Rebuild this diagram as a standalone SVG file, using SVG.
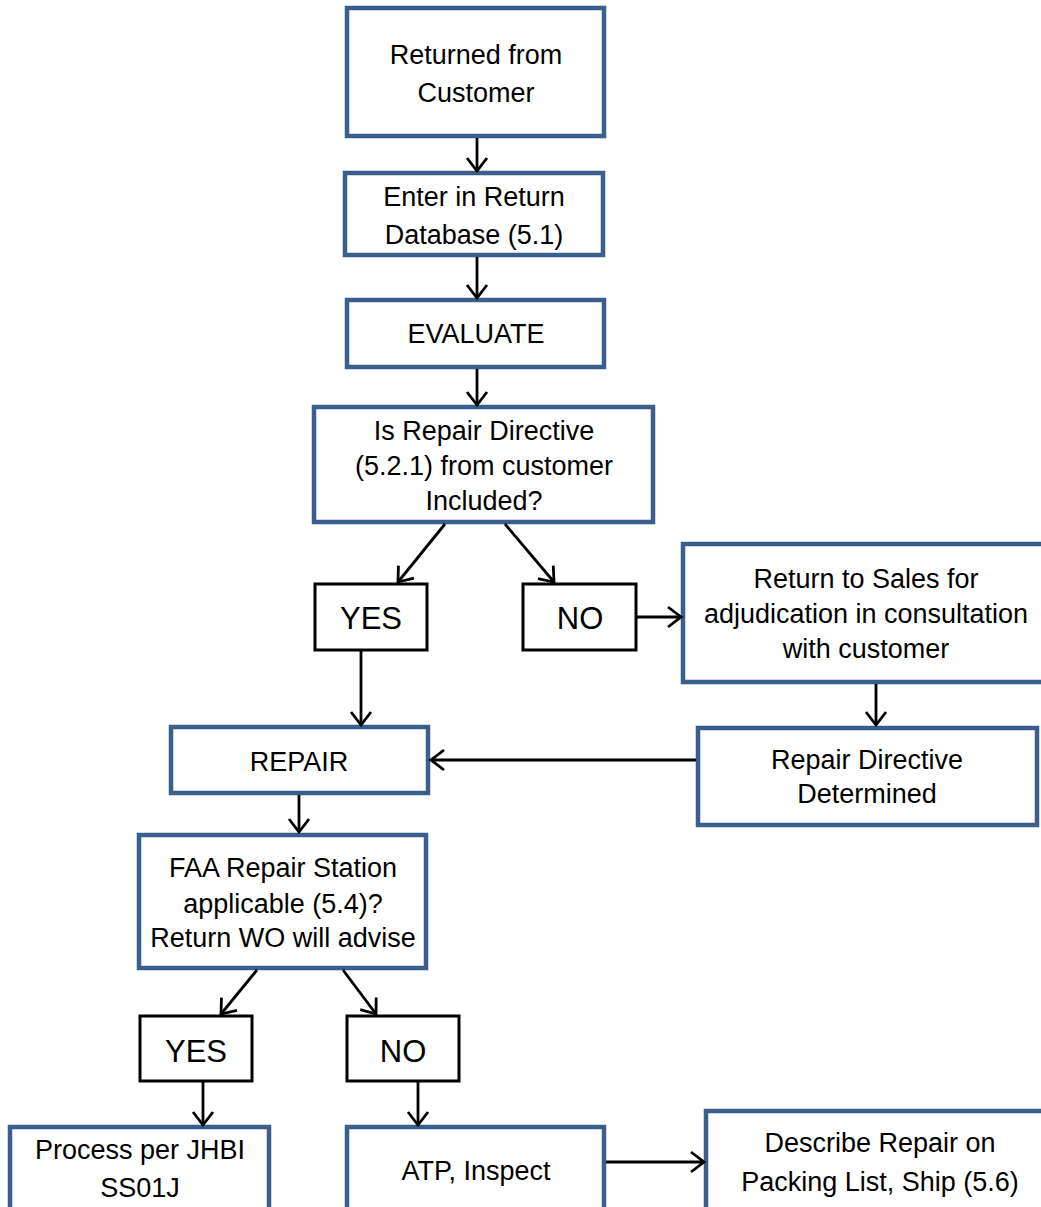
<svg xmlns="http://www.w3.org/2000/svg" width="1041" height="1207" viewBox="0 0 1041 1207">
<style>
.b{fill:#fff;stroke:#3B5E8C;stroke-width:4.5}
.k{fill:#fff;stroke:#000;stroke-width:3}
text{font-family:"Liberation Sans",Arial,sans-serif;font-size:27px;fill:#000;text-anchor:middle}
.yn{font-size:31px}
.c line{stroke:#000;stroke-width:2.8;marker-end:url(#a)}
</style>
<defs>
<marker id="a" markerUnits="userSpaceOnUse" markerWidth="30" markerHeight="30" viewBox="-15 -15 30 30" refX="0" refY="0" orient="auto">
<polyline points="-13,-10 0,0 -13,10" fill="none" stroke="#000" stroke-width="2.8"/>
</marker>
</defs>
<rect width="1041" height="1207" fill="#fff"/>
<g id="nodes">
<g id="n1"><rect class="b" x="347" y="8" width="257" height="128"/><text x="476" y="64">Returned from</text><text x="476" y="102">Customer</text></g>
<g id="n2"><rect class="b" x="345" y="173" width="258" height="82"/><text x="474" y="206">Enter in Return</text><text x="474" y="244">Database (5.1)</text></g>
<g id="n3"><rect class="b" x="347" y="300" width="257" height="67"/><text x="476" y="343">EVALUATE</text></g>
<g id="n4"><rect class="b" x="314" y="407" width="339" height="115"/><text x="484" y="440">Is Repair Directive</text><text x="484" y="475">(5.2.1) from customer</text><text x="484" y="510">Included?</text></g>
<g id="n5"><rect class="k" x="315" y="584" width="112" height="66"/><text class="yn" x="371" y="629">YES</text></g>
<g id="n6"><rect class="k" x="523" y="584" width="113" height="66"/><text class="yn" x="580" y="629">NO</text></g>
<g id="n7"><rect class="b" x="683" y="544" width="368" height="138"/><text x="866" y="588">Return to Sales for</text><text x="866" y="623">adjudication in consultation</text><text x="866" y="658">with customer</text></g>
<g id="n8"><rect class="b" x="698" y="728" width="339" height="97"/><text x="867" y="769">Repair Directive</text><text x="867" y="803">Determined</text></g>
<g id="n9"><rect class="b" x="171" y="727" width="257" height="66"/><text x="299" y="771">REPAIR</text></g>
<g id="n10"><rect class="b" x="139" y="835" width="287" height="133"/><text x="283" y="877">FAA Repair Station</text><text x="283" y="913">applicable (5.4)?</text><text x="283" y="947">Return WO will advise</text></g>
<g id="n11"><rect class="k" x="140" y="1016" width="112" height="65"/><text class="yn" x="196" y="1062">YES</text></g>
<g id="n12"><rect class="k" x="347" y="1016" width="112" height="65"/><text class="yn" x="403" y="1062">NO</text></g>
<g id="n13"><rect class="b" x="10" y="1127" width="259" height="90"/><text x="140" y="1159">Process per JHBI</text><text x="140" y="1197">SS01J</text></g>
<g id="n14"><rect class="b" x="347" y="1127" width="257" height="90"/><text x="476" y="1180">ATP, Inspect</text></g>
<g id="n15"><rect class="b" x="706" y="1111" width="350" height="106"/><text x="880" y="1152">Describe Repair on</text><text x="880" y="1191">Packing List, Ship (5.6)</text></g>
</g>
<g id="connectors" class="c">
<line x1="477" y1="138" x2="477" y2="171"/>
<line x1="477" y1="257" x2="477" y2="298"/>
<line x1="477" y1="369" x2="477" y2="405"/>
<line x1="445" y1="524" x2="398" y2="582"/>
<line x1="505" y1="524" x2="554" y2="582"/>
<line x1="637" y1="617" x2="681" y2="617"/>
<line x1="876" y1="684" x2="876" y2="725"/>
<line x1="361" y1="651" x2="361" y2="725"/>
<line x1="696" y1="760" x2="431" y2="760"/>
<line x1="299" y1="795" x2="299" y2="832"/>
<line x1="257" y1="970" x2="221" y2="1014"/>
<line x1="343" y1="970" x2="376" y2="1014"/>
<line x1="203" y1="1082" x2="203" y2="1125"/>
<line x1="418" y1="1082" x2="418" y2="1125"/>
<line x1="606" y1="1162" x2="704" y2="1162"/>
</g>
</svg>
